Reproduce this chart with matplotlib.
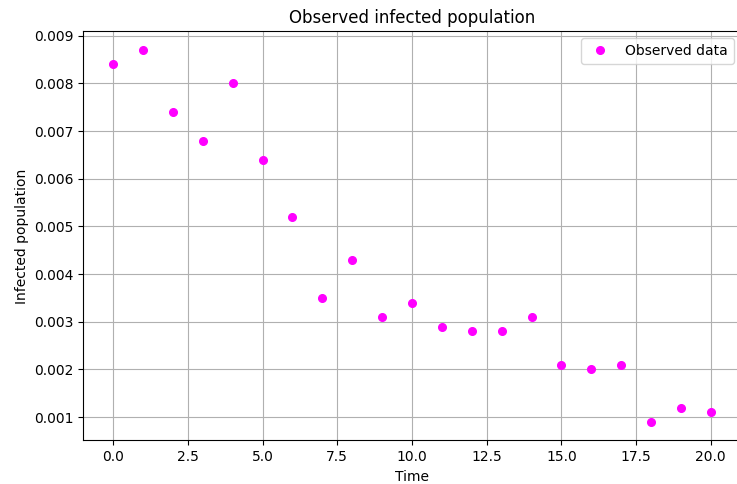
import matplotlib.pyplot as plt
import numpy as np

# observed data
time = np.arange(0, 21)
infected = [0.0084, 0.0087, 0.0074, 0.0068, 0.0080, 0.0064, 0.0052, 0.0035,
            0.0043, 0.0031, 0.0034, 0.0029, 0.0028, 0.0028, 0.0031, 0.0021,
            0.0020, 0.0021, 0.0009, 0.0012, 0.0011]

fig, ax = plt.subplots(figsize=(7.37, 4.84), dpi=100)
ax.plot(time, infected, 'o', color='magenta', markersize=5.5, label='Observed data')
ax.set_title('Observed infected population')
ax.set_xlabel('Time')
ax.set_ylabel('Infected population')
ax.legend()
ax.grid(True)
fig.subplots_adjust(left=0.113, right=1.005, top=0.935, bottom=0.09)
fig.savefig('out.png', dpi=100)
